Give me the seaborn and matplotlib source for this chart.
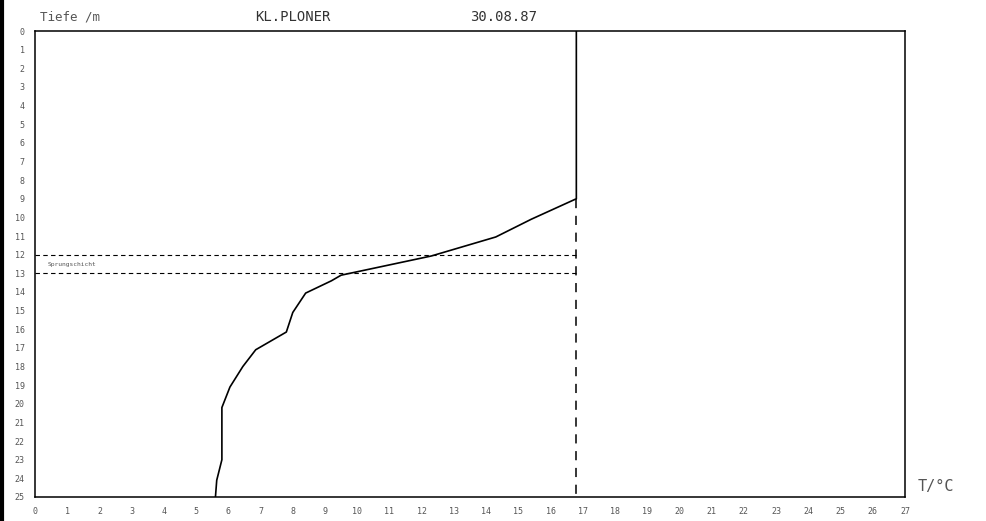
import numpy as np
import pandas as pd
import matplotlib
matplotlib.use("Agg")
import matplotlib.pyplot as plt
import seaborn as sns

# Temperaturprofil KL. Ploener See, 30.08.87
tiefe = [0, 9.0, 10.1, 11.05, 12.07, 13.1, 13.4, 14.06, 15.1, 16.15, 17.1, 18.0, 19.1, 20.2, 23.0, 24.1, 25.0]
temperatur = [16.8, 16.8, 15.4, 14.3, 12.3, 9.5, 9.2, 8.4, 8.0, 7.8, 6.85, 6.45, 6.05, 5.8, 5.8, 5.64, 5.6]
oberflaeche_temp = 16.8
sprungschicht = [12, 13]
x_ticks = list(range(0, 28))
y_ticks = list(range(0, 26))

df = pd.DataFrame({"Tiefe": tiefe, "T": temperatur})

sns.set_style("white")
plt.rcParams['font.family'] = ['DejaVu Sans Mono', 'DejaVu Sans']
grau = "#555555"

fig = plt.figure(figsize=(9.87, 5.21), dpi=100)
ax = fig.add_axes([35/987, 24/521, 870/987, 466/521])

sns.lineplot(data=df, x="T", y="Tiefe", sort=False, estimator=None, color="black", lw=1.2, ax=ax)

# gestrichelte Linie unter der Deckschicht
ax.vlines(oberflaeche_temp, tiefe[1], 25, colors="black", linestyles=(0, (6, 5)), lw=1.1)
for d in sprungschicht:
    ax.hlines(d, 0, oberflaeche_temp, colors="black", linestyles=(0, (4, 3)), lw=0.8)
ax.text(0.4, 12.55, "Sprungschicht", fontsize=4.5, color=grau, va="center")

ax.set_xlim(0, 27)
ax.set_ylim(25, 0)
ax.set_xticks(x_ticks)
ax.set_yticks(y_ticks)
ax.set_xticklabels([str(t) for t in x_ticks], fontsize=6, color=grau)
ax.set_yticklabels([str(t) for t in y_ticks], fontsize=6, color=grau)
ax.tick_params(direction="inout", length=5, width=0.8, pad=5)
ax.set_xlabel("")
ax.set_ylabel("")
for s in ax.spines.values():
    s.set_linewidth(1.1)
    s.set_color("black")

fig.text(40/987, 1 - 17/521, "Tiefe /m", fontsize=9, color=grau, va="center")
fig.text(255/987, 1 - 17/521, "KL.PLONER", fontsize=10, color="#333333", va="center")
fig.text(470/987, 1 - 17/521, "30.08.87", fontsize=10, color="#333333", va="center")
fig.text(918/987, 1 - 487/521, "T/°C", fontsize=11, color=grau, va="center")

# Scanrand links
fig.add_artist(plt.Line2D([2/987, 2/987], [0, 1], color="black", lw=3, transform=fig.transFigure))

fig.savefig("out.png", dpi=100)
